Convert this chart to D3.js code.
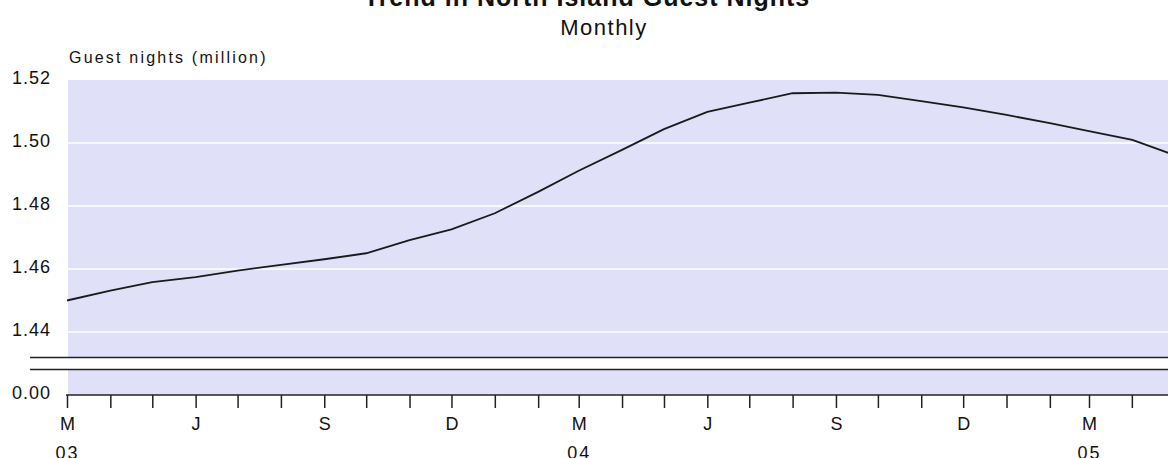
<!DOCTYPE html>
<html>
<head>
<meta charset="utf-8">
<script src="https://cdn.jsdelivr.net/npm/d3@7"></script>
<style>
  body { margin: 0; background: #fff; }
  svg { display: block; font-family: "Liberation Sans", Arial, sans-serif; }
  text { fill: #111; }
</style>
</head>
<body>
<svg id="chart" width="1168" height="458"></svg>
<script>
// monthly trend series, Mar 2003 .. May 2005
var months = ["2003-03","2003-04","2003-05","2003-06","2003-07","2003-08","2003-09",
  "2003-10","2003-11","2003-12","2004-01","2004-02","2004-03","2004-04","2004-05",
  "2004-06","2004-07","2004-08","2004-09","2004-10","2004-11","2004-12","2005-01",
  "2005-02","2005-03","2005-04","2005-05"];
var guestNights = [1.4500, 1.4531, 1.4558, 1.4574, 1.4595, 1.4613, 1.4631, 1.4650,
  1.4692, 1.4726, 1.4777, 1.4845, 1.4912, 1.4978, 1.5044, 1.5099, 1.5128, 1.5158,
  1.5160, 1.5153, 1.5133, 1.5113, 1.5089, 1.5063, 1.5038, 1.5010, 1.4962];

var yTicks = [1.44, 1.46, 1.48, 1.50, 1.52];
var yTicksLow = [0];
var monthInitials = ["J","F","M","A","M","J","J","A","S","O","N","D"];
var labelledMonths = [2, 5, 8, 11]; // Mar, Jun, Sep, Dec
var yearTicks = ["2003-03", "2004-03", "2005-03"];

var parse = d3.timeParse("%Y-%m");
var data = months.map(function (m, i) { return { date: parse(m), value: guestNights[i] }; });

var W = 1168, H = 458;
var plotLeft = 68, plotRight = W;
var upperTop = 80, upperBottom = 357.5;
var lowerTop = 369.5, lowerBottom = 395;

var svg = d3.select("#chart");

// scales
var x = d3.scaleTime()
  .domain([parse("2003-03"), parse("2005-03")])
  .range([67, 1089]);

var y = d3.scaleLinear().domain([1.44, 1.52]).range([332, 80]);
var yLow = d3.scaleLinear().domain([0, 0.01]).range([lowerBottom, lowerTop]);

// titles
svg.append("text")
  .attr("x", 587).attr("y", 6)
  .attr("text-anchor", "middle")
  .style("font-size", "25px").style("font-weight", "bold").style("letter-spacing", "1px")
  .text("Trend in North Island Guest Nights");

svg.append("text")
  .attr("x", 604).attr("y", 35)
  .attr("text-anchor", "middle")
  .style("font-size", "22px").style("letter-spacing", "1.5px")
  .text("Monthly");

svg.append("text")
  .attr("x", 69).attr("y", 63)
  .style("font-size", "16px").style("letter-spacing", "2.2px")
  .text("Guest nights (million)");

// plot backgrounds
svg.append("rect")
  .attr("x", plotLeft).attr("y", upperTop)
  .attr("width", plotRight - plotLeft).attr("height", upperBottom - upperTop)
  .attr("fill", "#e0e0f8");
svg.append("rect")
  .attr("x", plotLeft).attr("y", lowerTop)
  .attr("width", plotRight - plotLeft).attr("height", lowerBottom - lowerTop)
  .attr("fill", "#e0e0f8");

// gridlines
svg.append("g")
  .selectAll("line")
  .data(yTicks.slice(0, -1))
  .join("line")
  .attr("x1", plotLeft).attr("x2", plotRight)
  .attr("y1", function (d) { return y(d); })
  .attr("y2", function (d) { return y(d); })
  .attr("stroke", "#fff").attr("stroke-width", 1.5);

// y labels
var yAxis = svg.append("g")
  .attr("transform", "translate(51,0)")
  .call(d3.axisLeft(y).tickValues(yTicks).tickFormat(d3.format(".2f")).tickSize(0).tickPadding(0));
var yAxisLow = svg.append("g")
  .attr("transform", "translate(51,0)")
  .call(d3.axisLeft(yLow).tickValues(yTicksLow).tickFormat(d3.format(".2f")).tickSize(0).tickPadding(0));
[yAxis, yAxisLow].forEach(function (g) {
  g.select(".domain").remove();
  g.selectAll("text")
    .attr("dy", 3)
    .attr("font-family", null).attr("font-size", null)
    .style("font-size", "18px").style("letter-spacing", "1px")
    .attr("fill", "#111");
});

// scale break
svg.append("g")
  .selectAll("line")
  .data([upperBottom, lowerTop])
  .join("line")
  .attr("x1", 30).attr("x2", plotRight)
  .attr("y1", function (d) { return d; })
  .attr("y2", function (d) { return d; })
  .attr("stroke", "#222").attr("stroke-width", 1.5);

// trend line
var line = d3.line()
  .x(function (d) { return x(d.date); })
  .y(function (d) { return y(d.value); });

svg.append("path")
  .datum(data)
  .attr("d", line)
  .attr("fill", "none")
  .attr("stroke", "#1a1a1a")
  .attr("stroke-width", 1.8);

// x axis
var xAxis = svg.append("g")
  .attr("transform", "translate(0," + lowerBottom + ")")
  .call(d3.axisBottom(x)
    .ticks(d3.timeMonth.every(1))
    .tickSize(13)
    .tickSizeOuter(0)
    .tickPadding(9)
    .tickFormat(function (d) {
      return labelledMonths.indexOf(d.getMonth()) >= 0 ? monthInitials[d.getMonth()] : "";
    }));
xAxis.select(".domain")
  .attr("d", "M66,0H" + plotRight)
  .attr("stroke", "#222").attr("stroke-width", 1.5);
xAxis.selectAll(".tick line").attr("stroke", "#222").attr("stroke-width", 1.5);
xAxis.selectAll("text")
  .attr("font-family", null).attr("font-size", null)
  .style("font-size", "18px")
  .attr("fill", "#111");

// extend monthly ticks to the right edge
var extraTicks = d3.timeMonth.range(parse("2005-04"), parse("2005-06"));
svg.append("g")
  .selectAll("line")
  .data(extraTicks)
  .join("line")
  .attr("x1", function (d) { return x(d); })
  .attr("x2", function (d) { return x(d); })
  .attr("y1", lowerBottom).attr("y2", lowerBottom + 13)
  .attr("stroke", "#222").attr("stroke-width", 1.5);

// year labels
var yearAxis = svg.append("g")
  .attr("transform", "translate(0," + lowerBottom + ")")
  .call(d3.axisBottom(x)
    .tickValues(yearTicks.map(parse))
    .tickSize(0)
    .tickPadding(0)
    .tickFormat(d3.timeFormat("%y")));
yearAxis.select(".domain").remove();
yearAxis.selectAll("text")
  .attr("dy", null).attr("y", 64)
  .attr("font-family", null).attr("font-size", null)
  .style("font-size", "18px").style("letter-spacing", "2px")
  .attr("fill", "#111");
</script>
</body>
</html>
